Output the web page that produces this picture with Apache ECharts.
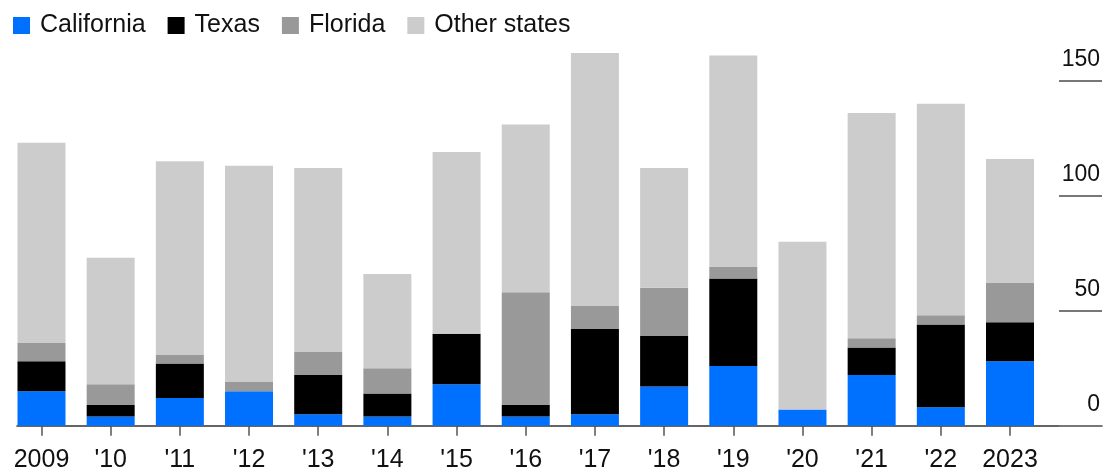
<!DOCTYPE html>
<html>
<head>
<meta charset="utf-8">
<script src="https://cdn.jsdelivr.net/npm/echarts@6/dist/echarts.min.js"></script>
<style>
  html, body { margin: 0; padding: 0; background: #fff; }
  #chart { width: 1112px; height: 473px; }
</style>
</head>
<body>
<div id="chart"></div>
<script>
// counts per year
var years = ['2009', "'10", "'11", "'12", "'13", "'14", "'15", "'16", "'17", "'18", "'19", "'20", "'21", "'22", '2023']
var california = [15, 4, 12, 15, 5, 4, 18, 4, 5, 17, 26, 7, 22, 8, 28]
var texas = [13, 5, 15, 0, 17, 10, 22, 5, 37, 22, 38, 0, 12, 36, 17]
var florida = [8, 9, 4, 4, 10, 11, 0, 49, 10, 21, 5, 0, 4, 4, 17]
var otherStates = [87, 55, 84, 94, 80, 41, 79, 73, 110, 52, 92, 73, 98, 92, 54]
var yTicks = [0, 50, 100, 150]

var font = "'Liberation Sans', Arial, Helvetica, sans-serif"
var colors = ['#0070ff', '#000000', '#999999', '#cccccc']

var chart = echarts.init(document.getElementById('chart'))

function barSeries(name, values) {
  return {
    name: name,
    type: 'bar',
    stack: 'total',
    xAxisIndex: 0,
    yAxisIndex: 0,
    barWidth: 48,
    clip: false, // tallest bars go above 150
    data: values,
  }
}

chart.setOption({
  animation: false,
  color: colors,
  textStyle: { fontFamily: font },
  legend: {
    left: 8,
    top: 6,
    itemWidth: 17,
    itemHeight: 17,
    itemGap: 22,
    icon: 'rect',
    data: ['California', 'Texas', 'Florida', 'Other states'],
    textStyle: {
      fontFamily: font,
      fontSize: 25,
      color: '#111',
      lineHeight: 29,
      padding: [0, 0, 0, 5],
    },
  },
  grid: [
    // bars
    { left: 6.9, right: 67.4, top: 80.7, bottom: 47.3 },
    // baseline and the short tick lines on the right
    { left: 17, right: 10, top: 80.7, bottom: 47.3 },
  ],
  xAxis: [
    {
      type: 'category',
      gridIndex: 0,
      data: years,
      axisLine: { show: false },
      axisTick: {
        show: true,
        alignWithLabel: true,
        length: 10,
        lineStyle: { color: '#555', width: 1.5 },
      },
      axisLabel: {
        fontFamily: font,
        fontSize: 25,
        color: '#111',
        margin: 22,
        interval: 0,
      },
    },
    {
      type: 'value',
      gridIndex: 1,
      min: 0,
      max: 1,
      axisLine: { show: true, onZero: false, lineStyle: { color: '#333', width: 1.5 } },
      axisTick: { show: false },
      axisLabel: { show: false },
      splitLine: { show: false },
    },
  ],
  yAxis: [
    {
      type: 'value',
      gridIndex: 0,
      min: 0,
      max: 150,
      interval: 50,
      show: false,
    },
    {
      type: 'value',
      gridIndex: 1,
      position: 'right',
      min: 0,
      max: 150,
      interval: 50,
      axisLine: { show: false, onZero: false },
      axisTick: {
        show: true,
        inside: true,
        length: 43,
        lineStyle: { color: '#777', width: 2 },
      },
      axisLabel: {
        inside: true,
        margin: 2,
        fontFamily: font,
        fontSize: 23,
        color: '#111',
        lineHeight: 23,
        verticalAlign: 'bottom',
        padding: [0, 0, 10, 0],
        formatter: function (v) {
          return yTicks.indexOf(v) >= 0 ? String(v) : ''
        },
      },
      splitLine: { show: false },
    },
  ],
  series: [
    barSeries('California', california),
    barSeries('Texas', texas),
    barSeries('Florida', florida),
    barSeries('Other states', otherStates),
  ],
})
</script>
</body>
</html>
